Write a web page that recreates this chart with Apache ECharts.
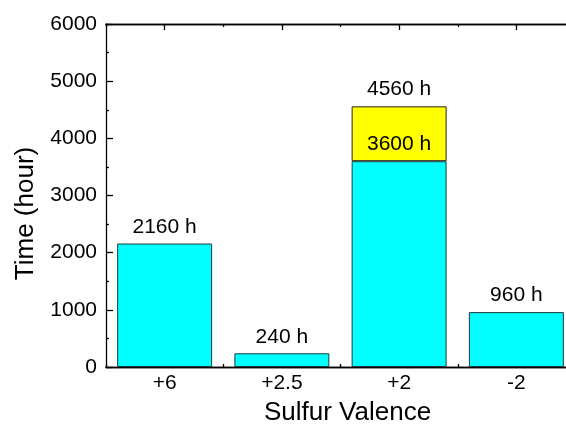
<!DOCTYPE html>
<html>
<head>
<meta charset="utf-8">
<script src="https://cdn.jsdelivr.net/npm/echarts@6/dist/echarts.min.js"></script>
<style>
  html, body { margin: 0; padding: 0; background: #fff; }
  #chart { width: 566px; height: 426px; }
</style>
</head>
<body>
<div id="chart"></div>
<script>
// data
const valences = ['+6', '+2.5', '+2', '-2'];
const baseHours = [2160, 240, 3600, 960];
const extraHours = ['-', '-', 960, '-'];
const yTicks = { min: 0, max: 6000, step: 1000 };

const font = 'Arial, "Liberation Sans", sans-serif';

const chart = echarts.init(document.getElementById('chart'));

// bottom / top category axes: one for centre ticks, one for boundary ticks
function catAxis(pos, centre, len, showLabel) {
    return {
        type: 'category',
        position: pos,
        data: valences,
        axisLine: { show: true, lineStyle: { color: '#000', width: 1.3 } },
        axisTick: { show: true, inside: true, alignWithLabel: centre, length: len, lineStyle: { color: '#000', width: 1.3 } },
        axisLabel: { show: showLabel, color: '#000', fontSize: 21, fontFamily: font, margin: 6 },
        splitLine: { show: false }
    };
}

const bottomAxis = catAxis('bottom', true, 7, true);
bottomAxis.name = 'Sulfur Valence';
bottomAxis.nameLocation = 'middle';
bottomAxis.nameGap = 33;
bottomAxis.nameTextStyle = { color: '#000', fontSize: 26, fontFamily: font, padding: [0, 0, 0, 14] };

let option = {
    animation: false,
    backgroundColor: '#fff',
    // the plot runs past the right edge of the picture, as in the original
    grid: { left: 106, top: 24, width: 469, height: 343, outerBoundsMode: 'none', containLabel: false },
    xAxis: [
        bottomAxis,
        catAxis('bottom', false, 3, false),
        catAxis('top', true, 6, false),
        catAxis('top', false, 3, false)
    ],
    yAxis: {
        type: 'value',
        min: yTicks.min,
        max: yTicks.max,
        interval: yTicks.step,
        name: 'Time (hour)',
        nameLocation: 'middle',
        nameGap: 67,
        nameTextStyle: { color: '#000', fontSize: 26, fontFamily: font, padding: [0, 36, 0, 0] },
        axisLine: { show: true, lineStyle: { color: '#000', width: 1.3 } },
        axisTick: { show: true, inside: true, length: 7, lineStyle: { color: '#000', width: 1.3 } },
        minorTick: { show: true, splitNumber: 2, length: 3, lineStyle: { color: '#000', width: 1.3 } },
        axisLabel: { color: '#000', fontSize: 21, fontFamily: font, margin: 9, formatter: v => String(v) },
        splitLine: { show: false },
        minorSplitLine: { show: false }
    },
    series: [
        {
            name: 'base',
            type: 'bar',
            stack: 'time',
            z: 3,
            barCategoryGap: '19%',
            data: baseHours,
            itemStyle: { color: '#00ffff', borderColor: '#1f3a3a', borderWidth: 1 },
            label: {
                show: true, position: 'top', distance: 6,
                color: '#000', fontSize: 21, fontFamily: font,
                formatter: '{c} h'
            }
        },
        {
            name: 'extra',
            type: 'bar',
            stack: 'time',
            z: 2,
            barCategoryGap: '19%',
            data: extraHours,
            itemStyle: { color: '#ffff00', borderColor: '#222', borderWidth: 1 },
            label: {
                show: true, position: 'top', distance: 7,
                color: '#000', fontSize: 21, fontFamily: font,
                formatter: p => (baseHours[p.dataIndex] + p.value) + ' h'
            }
        }
    ]
};

chart.setOption(option);
</script>
</body>
</html>
